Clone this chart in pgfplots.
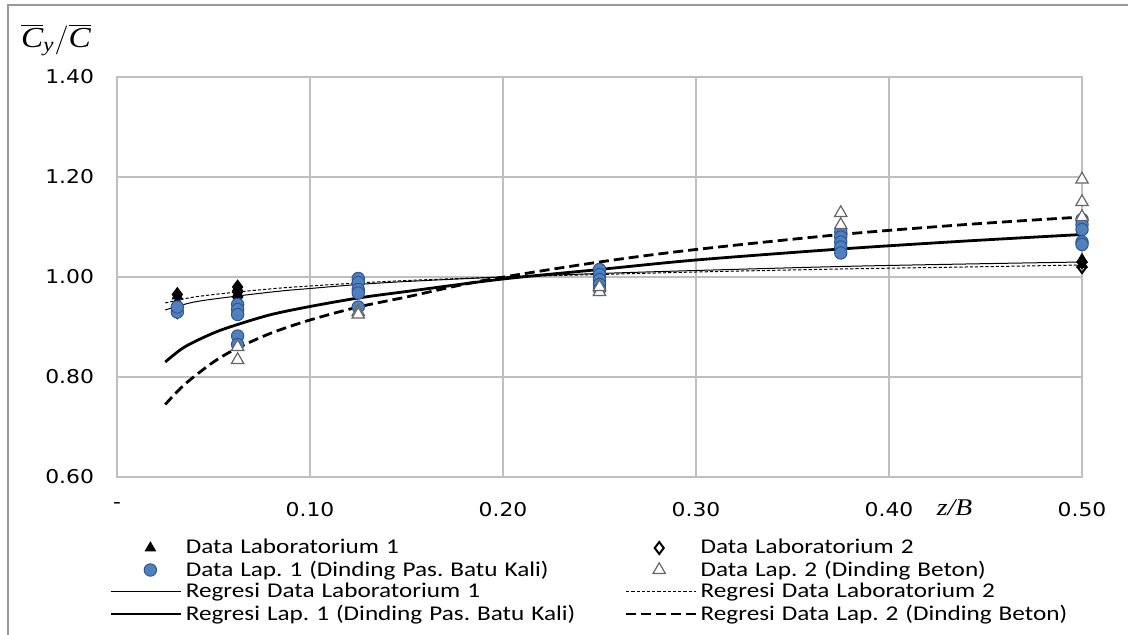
\documentclass[border=0pt]{standalone}
\usepackage{fontspec}
\setmainfont{Carlito}
\newfontfamily\legfont[FakeStretch=1.2]{Carlito}
\newfontfamily\tickfont[FakeStretch=1.15]{DejaVu Sans}
\newfontfamily\timesf[FakeStretch=1.15]{Liberation Serif}
\usepackage{pgfplots}
\pgfplotsset{compat=1.18}
\definecolor{gridgray}{HTML}{BFBFBF}
\definecolor{lapblue}{HTML}{4F81BD}
\definecolor{lapedge}{HTML}{2F5597}
\pgfplotsset{
  legmark/.style={legend image code/.code={%
    \path[draw=none] (0pt,0pt) -- (35pt,0pt);
    \draw[##1,/tikz/only marks] plot coordinates {(#1,0pt)};}},
  legline/.style={legend image code/.code={%
    \draw[##1] (0pt,0pt) -- (35pt,0pt);}},
}

\begin{document}
\begin{tikzpicture}
\useasboundingbox (-58.5pt,-79pt) rectangle (505.5pt,238.5pt);
\draw[gray!80, line width=0.8pt] (-54.5pt,-90pt) -- (-54.5pt,236pt) -- (520pt,236pt);
\begin{axis}[
  at={(0,0)}, anchor=south west,
  scale only axis, width=482.5pt, height=200pt,
  xmin=0, xmax=0.5, ymin=0.6, ymax=1.4,
  xtick={0,0.1,0.2,0.3,0.4,0.5},
  xticklabels={-,0.10,0.20,0.30,0.40,0.50},
  ytick={0.6,0.8,1.0,1.2,1.4},
  yticklabels={0.60,0.80,1.00,1.20,1.40},
  tick label style={font=\tickfont\fontsize{9.5}{11}\selectfont},
  xticklabel style={yshift=-9pt},
  yticklabel style={xshift=-8pt},
  major tick length=0pt,
  axis line style={gridgray, line width=0.75pt},
  grid=major, major grid style={gridgray, line width=0.75pt},
  xlabel={\timesf\itshape z/B},
  xlabel style={at={(axis description cs:0.868,0)}, anchor=center,
    yshift=-15.5pt, font=\fontsize{12}{13}\selectfont},
  legend columns=2, legend cell align=left,
  legend style={at={(-0.00725,-0.15)}, anchor=north west, draw=none,
    fill=none, inner sep=0pt, outer sep=0pt, row sep=0pt,
    font=\legfont\fontsize{10.5}{11}\selectfont\frenchspacing,
    nodes={inner sep=0pt, text width=217pt, minimum height=11pt},
    /tikz/every odd column/.append style={column sep=1.5pt},
    /tikz/every even column/.append style={column sep=2.5pt}},
]
% Data Laboratorium 1
\addplot[only marks, mark=triangle*, mark size=3pt,
  mark options={fill=black, draw=black}, legmark={19.5pt}]
  coordinates {
    (0.03125,0.935) (0.03125,0.950) (0.03125,0.962)
    (0.0625,0.955) (0.0625,0.966) (0.0625,0.978)
    (0.5,1.025) (0.5,1.035)
  };
\addlegendentry{Data Laboratorium 1}
% Data Laboratorium 2
\addplot[only marks, mark=diamond, mark size=3pt,
  mark options={draw=black, line width=1pt}, legmark={16.5pt}]
  coordinates {
    (0.03125,0.930) (0.03125,0.945) (0.03125,0.965)
    (0.0625,0.960) (0.0625,0.970) (0.0625,0.980)
    (0.5,1.020) (0.5,1.030)
  };
\addlegendentry{Data Laboratorium 2}
% Data Lap. 1
\addplot[only marks, mark=*, mark size=3.1pt,
  mark options={fill=lapblue, draw=lapedge, line width=0.5pt}, legmark={19.5pt}]
  coordinates {
    (0.03125,0.930) (0.03125,0.940)
    (0.0625,0.945) (0.0625,0.935) (0.0625,0.925) (0.0625,0.882) (0.0625,0.865)
    (0.125,0.997) (0.125,0.989) (0.125,0.975) (0.125,0.968) (0.125,0.940)
    (0.25,1.015) (0.25,1.005) (0.25,0.995) (0.25,0.985) (0.25,0.975)
    (0.375,1.090) (0.375,1.080) (0.375,1.070) (0.375,1.060) (0.375,1.048)
    (0.5,1.115) (0.5,1.105) (0.5,1.095) (0.5,1.070) (0.5,1.065)
  };
\addlegendentry{Data Lap. 1 (Dinding Pas. Batu Kali)}
% Data Lap. 2
\addplot[only marks, mark=triangle*, mark size=3.6pt,
  mark options={fill=white, draw=black!60, line width=0.6pt}, legmark={16.5pt}]
  coordinates {
    (0.0625,0.860) (0.0625,0.834)
    (0.125,0.930) (0.125,0.925)
    (0.25,0.970) (0.25,0.980)
    (0.375,1.128) (0.375,1.104)
    (0.5,1.195) (0.5,1.150) (0.5,1.120)
  };
\addlegendentry{Data Lap. 2 (Dinding Beton)}
% Regresi Data Laboratorium 1
\addplot[black, line width=0.5pt, smooth, legline]
  coordinates {
    (0.025,0.934) (0.04,0.950) (0.0625,0.962) (0.085,0.972) (0.1,0.977)
    (0.125,0.985) (0.15,0.991) (0.2,1.000) (0.25,1.007) (0.3,1.013)
    (0.375,1.021) (0.44,1.026) (0.5,1.030)
  };
\addlegendentry{Regresi Data Laboratorium 1}
% Regresi Data Laboratorium 2
\addplot[black, line width=0.5pt, smooth, dash pattern=on 1.6pt off 1pt, legline]
  coordinates {
    (0.025,0.948) (0.04,0.960) (0.0625,0.970) (0.085,0.978) (0.1,0.982)
    (0.125,0.988) (0.15,0.993) (0.2,1.000) (0.25,1.005) (0.3,1.010)
    (0.375,1.016) (0.44,1.020) (0.5,1.024)
  };
\addlegendentry{Regresi Data Laboratorium 2}
% Regresi Lap. 1
\addplot[black, line width=1.4pt, smooth, legline]
  coordinates {
    (0.025,0.830) (0.035,0.860) (0.05,0.888) (0.0625,0.905) (0.08,0.925)
    (0.1,0.941) (0.125,0.958) (0.15,0.971) (0.2,0.996) (0.25,1.015)
    (0.3,1.034) (0.375,1.056) (0.44,1.072) (0.5,1.085)
  };
\addlegendentry{Regresi Lap. 1 (Dinding Pas. Batu Kali)}
% Regresi Lap. 2
\addplot[black, line width=1.4pt, smooth, dash pattern=on 5pt off 2.5pt, legline]
  coordinates {
    (0.025,0.745) (0.035,0.785) (0.05,0.830) (0.0625,0.858) (0.08,0.888)
    (0.1,0.914) (0.125,0.940) (0.15,0.960) (0.19,0.993) (0.25,1.030)
    (0.3,1.055) (0.375,1.085) (0.44,1.105) (0.5,1.120)
  };
\addlegendentry{Regresi Data Lap. 2 (Dinding Beton)}
\end{axis}
\node[font=\timesf\itshape\fontsize{14.5}{15}\selectfont] at (-30.5pt,218.5pt)
  {$\overline{\mbox{C}}_{\mbox{\fontsize{10}{11}\selectfont y}}/\overline{\mbox{C}}$};
\end{tikzpicture}
\end{document}
